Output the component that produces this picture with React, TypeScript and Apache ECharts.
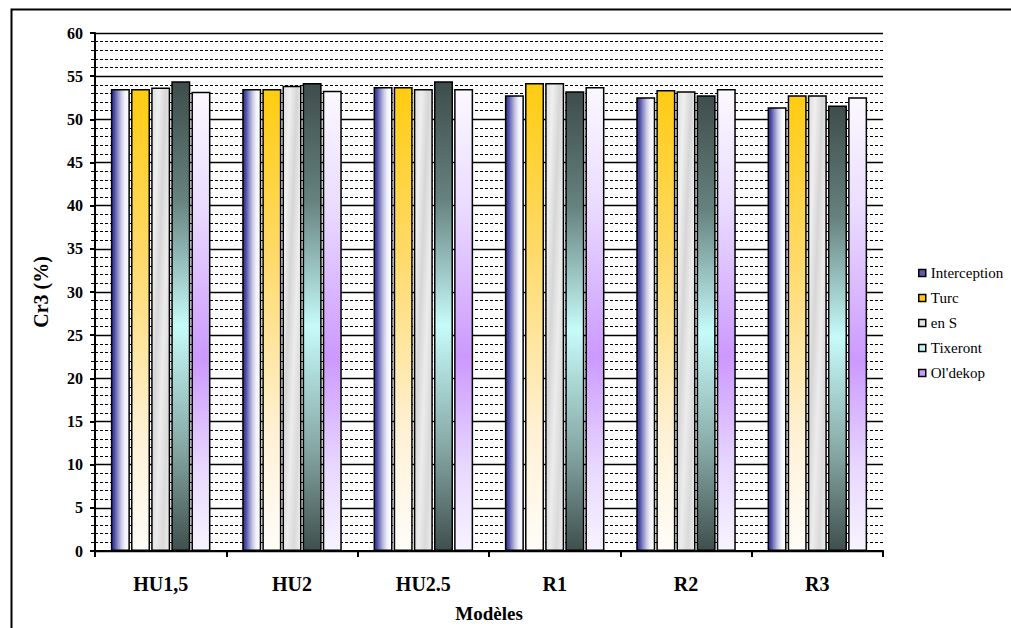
import React, { useEffect, useRef } from "react";
import * as echarts from "echarts";

const categories = ["HU1,5", "HU2", "HU2.5", "R1", "R2", "R3"];
const seriesNames = ["Interception", "Turc", "en S", "Tixeront", "Ol'dekop"];
const interception = [53.5, 53.5, 53.75, 52.8, 52.55, 51.4];
const turc = [53.5, 53.5, 53.75, 54.2, 53.4, 52.8];
const enS = [53.7, 53.9, 53.5, 54.2, 53.25, 52.8];
const tixeront = [54.4, 54.2, 54.4, 53.25, 52.8, 51.6];
const oldekop = [53.2, 53.3, 53.5, 53.75, 53.5, 52.55];
const yTicks = { min: 0, max: 60, interval: 5 };

const FONT = "Times New Roman, Liberation Serif, serif";

const lin = (x: number, y: number, x2: number, y2: number, stops: [number, string][]) =>
  new echarts.graphic.LinearGradient(x, y, x2, y2, stops.map(([offset, color]) => ({ offset, color })));

const fills = [
  lin(0, 0, 1, 0, [
    [0, "#2f2f8f"],
    [0.15, "#4a4aa5"],
    [0.35, "#8d8dc6"],
    [0.55, "#c9c9e6"],
    [0.75, "#f2f2fb"],
    [1, "#ffffff"],
  ]),
  lin(0, 0, 0, 1, [
    [0, "#ffcc11"],
    [0.35, "#ffd966"],
    [0.75, "#fff1d6"],
    [1, "#fffdf9"],
  ]),
  lin(0, 0, 1, 1, [
    [0, "#dedede"],
    [0.2, "#efefef"],
    [0.4, "#d6d6d6"],
    [0.6, "#ececec"],
    [0.8, "#dadada"],
    [1, "#eeeeee"],
  ]),
  lin(0, 0, 0, 1, [
    [0, "#3e4d4b"],
    [0.25, "#66827f"],
    [0.52, "#c6fbfa"],
    [0.78, "#86a8a5"],
    [1, "#3f4f4d"],
  ]),
  lin(0, 0, 0, 1, [
    [0, "#fbf8ff"],
    [0.25, "#eadcff"],
    [0.58, "#cc99ff"],
    [0.82, "#e8d8ff"],
    [1, "#f7f3ff"],
  ]),
];

const legendColors = ["#5a5aa8", "#ffcc00", "#e2e2e2", "#bff5f2", "#cc99ff"];
const values = [interception, turc, enS, tixeront, oldekop];

export default function App() {
  const ref = useRef<HTMLDivElement>(null);
  useEffect(() => {
    if (!ref.current) return;
    const chart = echarts.init(ref.current, null, { renderer: "svg" });
    chart.setOption({
      animation: false,
      backgroundColor: "#ffffff",
      textStyle: { fontFamily: FONT, color: "#000" },
      graphic: [
        {
          type: "rect",
          left: 9,
          top: 7,
          shape: { width: 1100, height: 700 },
          style: { fill: "none", stroke: "#000", lineWidth: 2 },
          z: -1,
        },
      ],
      legend: {
        orient: "vertical",
        left: 913,
        top: 260,
        itemWidth: 7,
        itemHeight: 7,
        itemGap: 9,
        icon: "rect",
        textStyle: { fontFamily: FONT, fontSize: 15, color: "#000", lineHeight: 16 },
        data: seriesNames.map((n, i) => ({
          name: n,
          itemStyle: { color: legendColors[i], borderColor: "#000", borderWidth: 1.5 },
        })),
      },
      grid: { left: 95, top: 33, width: 788, height: 519, containLabel: false },
      xAxis: {
        type: "category",
        data: categories,
        name: "Modèles",
        nameLocation: "middle",
        nameGap: 53,
        nameTextStyle: { fontFamily: FONT, fontWeight: "bold", fontSize: 19, color: "#000" },
        axisLine: { lineStyle: { color: "#000", width: 2 } },
        axisTick: { show: true, length: 6, lineStyle: { color: "#000", width: 2 } },
        axisLabel: { fontFamily: FONT, fontWeight: "bold", fontSize: 20, color: "#000", margin: 23 },
      },
      yAxis: {
        type: "value",
        min: yTicks.min,
        max: yTicks.max,
        interval: yTicks.interval,
        name: "Cr3 (%)",
        nameLocation: "middle",
        nameGap: 44,
        nameTextStyle: { fontFamily: FONT, fontWeight: "bold", fontSize: 20, color: "#000" },
        axisLine: { show: true, lineStyle: { color: "#000", width: 2 } },
        axisTick: { show: true, length: 5, lineStyle: { color: "#000", width: 2 } },
        minorTick: { show: true, splitNumber: 5, length: 4, lineStyle: { color: "#000", width: 1 } },
        axisLabel: { fontFamily: FONT, fontWeight: "bold", fontSize: 16, color: "#000", margin: 12 },
        splitLine: { show: true, lineStyle: { color: "#000", width: 1.4 } },
        minorSplitLine: { show: true, lineStyle: { color: "#000", width: 1, type: [3, 2] } },
      },
      series: seriesNames.map((n, i) => ({
        name: n,
        type: "bar",
        data: values[i],
        barWidth: 19,
        barGap: "6%",
        itemStyle: { color: fills[i], borderColor: "#000", borderWidth: 1.5 },
      })),
    });
    return () => chart.dispose();
  }, []);
  return (
    <div
      ref={ref}
      style={{ position: "fixed", left: 0, top: 0, width: 1011, height: 628 }}
    />
  );
}
